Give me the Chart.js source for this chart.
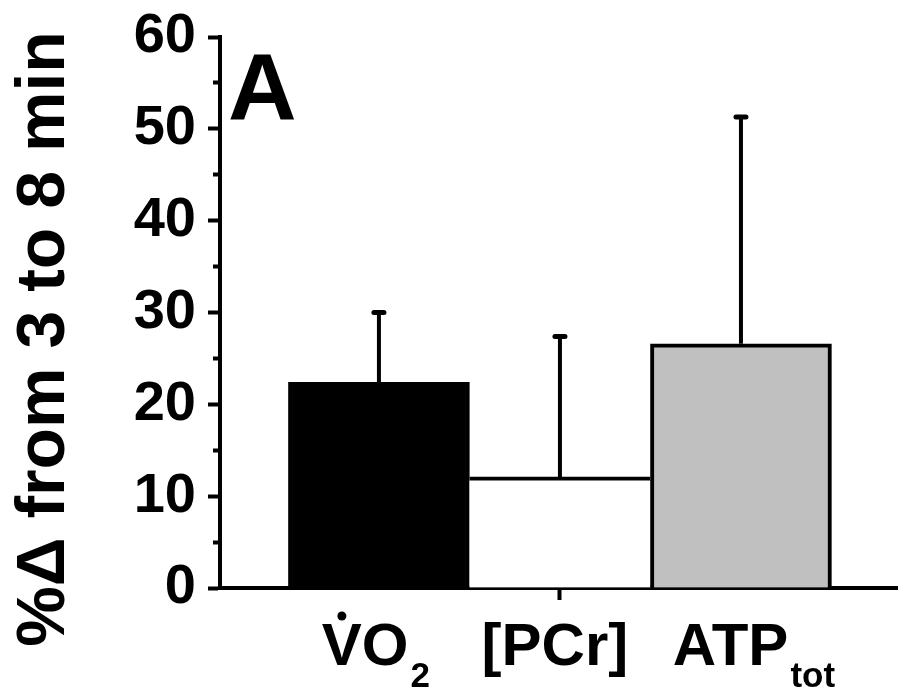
<!DOCTYPE html>
<html>
<head>
<meta charset="utf-8">
<script src="https://cdn.jsdelivr.net/npm/chart.js@4/dist/chart.umd.min.js"></script>
<style>
  html, body { margin: 0; padding: 0; background: #ffffff; }
  #c { display: block; }
</style>
</head>
<body>
<canvas id="c" width="898" height="696"></canvas>
<script>
// ---- data ----
const categories   = ['VO', '[PCr]', 'ATP'];       // main label text
const catSubs      = ['2', '', 'tot'];              // subscripts
const catDots      = [true, false, false];          // dot over first letter (V̇O2)
const meanValues   = [22.4, 12.1, 26.6];            // %Δ from 3 to 8 min
const sdValues     = [7.6, 15.3, 24.7];             // upper error bars
const barColors    = ['#000000', '#ffffff', '#c0c0c0'];
const yMajorTicks  = [0, 10, 20, 30, 40, 50, 60];
const yMinorTicks  = [5, 15, 25, 35, 45, 55];
const yTitle       = '%\u0394 from 3 to 8 min';
const panelLabel   = 'A';

const FONT = '"Liberation Sans", Arial, Helvetica, sans-serif';

const errorBarPlugin = {
  id: 'errorBars',
  afterDatasetsDraw(chart) {
    const ctx = chart.ctx;
    const xs = chart.scales.x, ys = chart.scales.y;
    ctx.save();
    ctx.strokeStyle = '#000';
    meanValues.forEach((v, i) => {
      const x = xs.getPixelForValue(i);
      const yb = ys.getPixelForValue(v);
      const yt = ys.getPixelForValue(v + sdValues[i]);
      ctx.lineCap = 'butt';
      ctx.lineWidth = 4;
      ctx.beginPath(); ctx.moveTo(x, yb); ctx.lineTo(x, yt); ctx.stroke();
      ctx.lineCap = 'round';
      ctx.lineWidth = 5;
      ctx.beginPath(); ctx.moveTo(x - 5, yt); ctx.lineTo(x + 5, yt); ctx.stroke();
    });
    ctx.restore();
  }
};

const labelPlugin = {
  id: 'labels',
  afterDraw(chart, args, opts) {
    const ctx = chart.ctx;
    const xs = chart.scales.x;
    ctx.save();
    ctx.fillStyle = '#000';
    ctx.textBaseline = 'alphabetic';
    ctx.textAlign = 'left';
    const mainFont = 'bold 60px ' + FONT;
    const subFont = 'bold 35px ' + FONT;
    categories.forEach((txt, i) => {
      ctx.font = mainFont;
      const wMain = ctx.measureText(txt).width;
      ctx.font = subFont;
      const wSub = catSubs[i] ? ctx.measureText(catSubs[i]).width + opts.subGap : 0;
      const cx = xs.getPixelForValue(i) + opts.nudge[i];
      const x0 = cx - (wMain + wSub) / 2;
      ctx.font = mainFont;
      ctx.fillText(txt, x0, opts.baseline);
      if (catDots[i]) {
        const wFirst = ctx.measureText(txt[0]).width;
        ctx.beginPath();
        ctx.arc(x0 + wFirst / 2, opts.baseline - 49, 4.5, 0, Math.PI * 2);
        ctx.fill();
      }
      if (catSubs[i]) {
        ctx.font = subFont;
        ctx.fillText(catSubs[i], x0 + wMain + opts.subGap, opts.baseline + opts.subDrop);
      }
    });
    // y title
    ctx.save();
    ctx.translate(opts.titleX, opts.titleY);
    ctx.rotate(-Math.PI / 2);
    ctx.font = 'bold 68px ' + FONT;
    ctx.textAlign = 'center';
    ctx.textBaseline = 'middle';
    ctx.fillText(yTitle, 0, 0);
    ctx.restore();
    // panel label
    ctx.font = 'bold 95px ' + FONT;
    ctx.textAlign = 'left';
    ctx.textBaseline = 'alphabetic';
    ctx.fillText(panelLabel, 228, 120);
    ctx.restore();
  }
};

new Chart(document.getElementById('c'), {
  type: 'bar',
  data: {
    datasets: [{
      data: meanValues.map((v, i) => ({ x: i, y: v })),
      backgroundColor: barColors,
      borderColor: '#000',
      borderWidth: [4, { top: 4, left: 0, right: 0, bottom: 0 }, 4],
      borderSkipped: 'start',
      barPercentage: 1,
      categoryPercentage: 1
    }]
  },
  options: {
    responsive: false,
    animation: false,
    devicePixelRatio: 1,
    layout: { padding: { top: 37, right: 1, left: 0, bottom: 0 } },
    plugins: {
      legend: { display: false },
      tooltip: { enabled: false },
      labels: { baseline: 665, subDrop: 22, subGap: 2, nudge: [-3, -5, 13], titleX: 45, titleY: 339 }
    },
    scales: {
      x: {
        type: 'linear',
        min: -0.878,
        max: 2.862,
        offset: false,
        afterBuildTicks: s => { s.ticks = categories.map((c, i) => ({ value: i })); },
        afterFit: s => { s.height = 108; s.paddingLeft = 0; s.paddingRight = 0; },
        ticks: { callback: () => '', autoSkip: false, font: { size: 1 } },
        grid: {
          offset: false,
          drawOnChartArea: false,
          drawTicks: true,
          tickLength: 12,
          tickWidth: 4,
          tickColor: ctx => (ctx.index === 1 ? '#000' : 'rgba(0,0,0,0)')
        },
        border: { display: true, color: '#000', width: 4 }
      },
      y: {
        min: 0,
        max: 60,
        afterBuildTicks: s => {
          s.ticks = yMajorTicks.concat(yMinorTicks).sort((a, b) => a - b).map(v => ({ value: v }));
        },
        afterFit: s => { s.width = 220; s.paddingTop = 0; s.paddingBottom = 0; },
        ticks: {
          autoSkip: false,
          color: '#000',
          padding: 12,
          font: { family: FONT, size: 56, weight: 'bold', lineHeight: 1.2 },
          callback: v => (yMajorTicks.includes(v) ? String(v) : '')
        },
        grid: {
          drawOnChartArea: false,
          drawTicks: true,
          tickLength: 12,
          tickWidth: 4,
          tickColor: '#000',
          tickBorderDash: ctx => (ctx.tick && yMinorTicks.includes(ctx.tick.value) ? [0, 5, 30, 0] : [])
        },
        border: { display: true, color: '#000', width: 4 }
      }
    }
  },
  plugins: [errorBarPlugin, labelPlugin]
});
</script>
</body>
</html>
